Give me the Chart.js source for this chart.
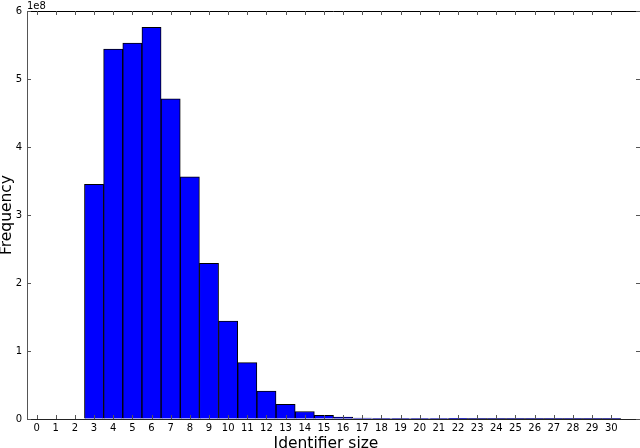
<!DOCTYPE html>
<html><head><meta charset="utf-8">
<script src="https://cdn.jsdelivr.net/npm/chart.js@4/dist/chart.umd.min.js"></script>
<style>html,body{margin:0;padding:0;background:#fff;overflow:hidden}#wrap{width:640px;height:448px;position:relative}</style>
</head><body><div id="wrap"><canvas id="c" width="640" height="448"></canvas></div>
<script>
// Identifier sizes (categories)
const sizes = [0,1,2,3,4,5,6,7,8,9,10,11,12,13,14,15,16,17,18,19,20,21,22,23,24,25,26,27,28,29,30];
// Frequencies
const frequencies = [0,0,0,3.45e8,5.44e8,5.53e8,5.76e8,4.71e8,3.56e8,2.29e8,1.44e8,0.83e8,0.41e8,0.215e8,0.11e8,0.055e8,0.027e8,0.015e8,0.01e8,0.005e8,0.003e8,0.002e8,0.0015e8,0.001e8,0.0008e8,0.0005e8,0.0004e8,0.0003e8,0.0002e8,0.0002e8,0.0001e8];
// x tick labels (one extra empty slot on the right, as in the reference)
const tickLabels = sizes.map(String).concat(['']);
const yOffsetExp = 1e8;
const yOffsetLabel = '1e8';
const xTitle = 'Identifier size';
const yTitle = 'Frequency';

const FONT = '"DejaVu Sans", sans-serif';

const frame = {
  id: 'frame',
  afterDraw(chart) {
    const {ctx, chartArea: a, scales: {x, y}} = chart;
    const line = (x1, y1, x2, y2) => { ctx.beginPath(); ctx.moveTo(x1, y1); ctx.lineTo(x2, y2); ctx.stroke(); };
    ctx.save();
    ctx.lineWidth = 1;
    ctx.strokeStyle = '#000';
    line(a.left, Math.round(a.top) + 0.5, a.right, Math.round(a.top) + 0.5);
    ctx.strokeStyle = '#555';
    x.ticks.forEach((t, i) => {
      if (tickLabels[i] === '') return;
      const px = Math.round(x.getPixelForTick(i)) + 0.5;
      line(px, a.bottom, px, a.bottom - 4);
      line(px, a.top, px, a.top + 4);
    });
    y.ticks.forEach((t, i) => {
      const py = Math.round(y.getPixelForTick(i)) + 0.5;
      line(a.left, py, a.left + 4, py);
      line(a.right, py, a.right - 4, py);
    });
    ctx.fillStyle = '#000';
    ctx.font = '10px ' + FONT;
    ctx.textAlign = 'left';
    ctx.textBaseline = 'alphabetic';
    ctx.fillText(yOffsetLabel, a.left, a.top - 2);
    ctx.font = '15.5px ' + FONT;
    ctx.textAlign = 'center';
    ctx.fillText(xTitle, 326, 448);
    ctx.restore();
  }
};

new Chart(document.getElementById('c'), {
  type: 'bar',
  data: {
    labels: tickLabels,
    datasets: [{
      data: frequencies,
      backgroundColor: '#0000ff',
      borderColor: '#000000',
      borderWidth: {top: 1, left: 1, bottom: 0, right: 1},
      borderSkipped: false,
      barPercentage: 1,
      categoryPercentage: 1
    }]
  },
  options: {
    responsive: false,
    animation: false,
    devicePixelRatio: 1,
    layout: {padding: {top: 9, right: 0, left: 0, bottom: 0}},
    plugins: {legend: {display: false}, tooltip: {enabled: false}},
    scales: {
      x: {
        offset: true,
        grid: {display: true, drawOnChartArea: false, drawTicks: false},
        border: {display: true, color: '#222', width: 1},
        ticks: {autoSkip: false, maxRotation: 0, padding: 3, color: '#000', font: {family: FONT, size: 10}},
        afterFit: s => { s.height = 29; }
      },
      y: {
        min: 0, max: 6e8,
        grid: {display: true, drawOnChartArea: false, drawTicks: false},
        border: {display: true, color: '#555', width: 1},
        ticks: {stepSize: 1e8, padding: 5, color: '#000', font: {family: FONT, size: 10},
                callback: v => String(Math.round(v / yOffsetExp))},
        title: {display: true, text: yTitle, color: '#000', font: {family: FONT, size: 15.5}, padding: {top: -2, bottom: 0}},
        afterFit: s => { s.width = 27; }
      }
    }
  },
  plugins: [frame]
});
</script>
</body></html>
